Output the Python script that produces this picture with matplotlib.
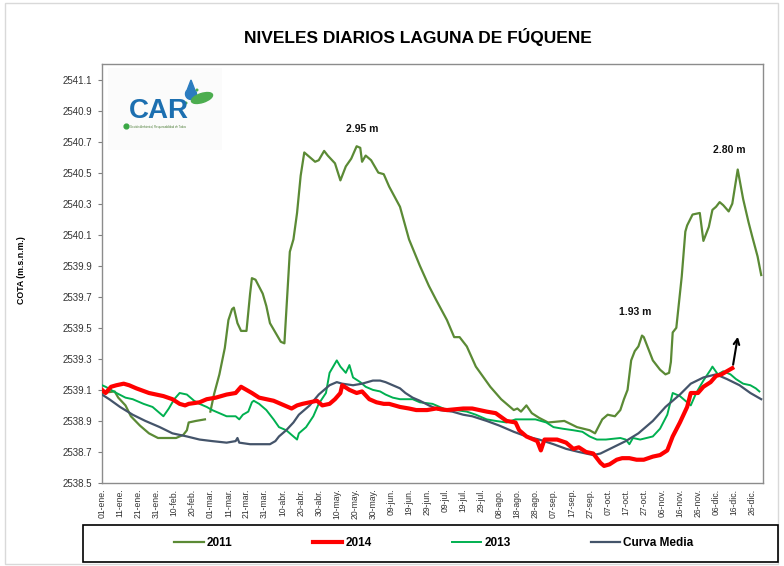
import numpy as np
import matplotlib
matplotlib.use("Agg")
import matplotlib.pyplot as plt
from matplotlib.patches import Rectangle, Ellipse, Polygon, Circle

plt.rcParams['font.family'] = ['Liberation Sans', 'DejaVu Sans']

# ---------------- data (day of year index, level in m.s.n.m.) ----------------
days_2011 = [0, 7, 9, 13, 16, 21, 26, 31, 41, 45, 47, 48, 52, 57, 58,
             60, 62, 65, 68, 70, 72, 73, 75, 77, 80, 82, 83, 85, 89, 91, 93, 95, 99, 101,
             104, 106, 108, 110, 112, 114, 118, 120, 123, 125, 129, 132, 135, 138, 141, 143,
             144, 146, 149, 153, 156, 159, 165, 170, 176, 181, 185, 191, 195, 198, 202, 207,
             215, 221, 228, 230, 232, 235, 238, 242, 247, 256, 263, 270, 273, 277, 280, 284,
             287, 289, 291, 293, 295, 297, 299, 300, 302, 305, 309, 312, 314, 315, 316, 318,
             321, 323, 324, 327, 331, 333, 336, 338, 340, 342, 344, 347, 349, 352, 355, 358,
             360, 363, 365]
lvl_2011 = [2539.08, 2539.09, 2539.05, 2539.00, 2538.93, 2538.87, 2538.82, 2538.79, 2538.79,
            2538.81, 2538.84, 2538.89, 2538.90, 2538.91, np.nan,
            2538.96, 2539.07, 2539.20, 2539.37, 2539.55, 2539.62, 2539.63, 2539.53, 2539.48,
            2539.48, 2539.72, 2539.82, 2539.81, 2539.72, 2539.64, 2539.53, 2539.49, 2539.41,
            2539.40, 2539.99, 2540.07, 2540.24, 2540.48, 2540.63, 2540.61, 2540.57, 2540.58,
            2540.64, 2540.61, 2540.56, 2540.45, 2540.54, 2540.59, 2540.67, 2540.66, 2540.57,
            2540.61, 2540.58, 2540.50, 2540.49, 2540.41, 2540.28, 2540.07, 2539.90, 2539.77,
            2539.68, 2539.55, 2539.44, 2539.44, 2539.38, 2539.25, 2539.12, 2539.04, 2538.97,
            2538.98, 2538.96, 2539.00, 2538.95, 2538.92, 2538.89, 2538.90, 2538.86, 2538.84,
            2538.82, 2538.91, 2538.94, 2538.93, 2538.97, 2539.04, 2539.10, 2539.29, 2539.35,
            2539.38, 2539.45, 2539.44, 2539.38, 2539.29, 2539.23, 2539.20, 2539.21, 2539.28,
            2539.47, 2539.50, 2539.83, 2540.12, 2540.16, 2540.23, 2540.24, 2540.06, 2540.15,
            2540.26, 2540.28, 2540.31, 2540.29, 2540.25, 2540.30, 2540.52, 2540.33, 2540.18,
            2540.09, 2539.96, 2539.84]

days_2014 = [0, 2, 5, 8, 12, 15, 19, 26, 34, 39, 43, 46, 48, 54, 58, 63, 69, 74, 77, 80, 83,
             87, 91, 95, 99, 105, 108, 111, 115, 119, 122, 126, 129, 132, 133, 137, 141, 144,
             148, 152, 156, 159, 165, 170, 174, 180, 185, 191, 200, 205, 209, 213, 218, 224,
             229, 231, 235, 239, 241, 243, 245, 252, 257, 261, 264, 268, 272, 276, 278, 281,
             285, 288, 292, 296, 300, 305, 309, 313, 316, 320, 324, 326, 330, 333, 337, 340,
             343, 346, 349]
lvl_2014 = [2539.10, 2539.08, 2539.12, 2539.13, 2539.14, 2539.13, 2539.11, 2539.08, 2539.06,
            2539.04, 2539.01, 2539.00, 2539.01, 2539.02, 2539.04, 2539.05, 2539.07, 2539.08,
            2539.12, 2539.10, 2539.08, 2539.05, 2539.04, 2539.03, 2539.01, 2538.98, 2539.00,
            2539.01, 2539.02, 2539.03, 2539.00, 2539.01, 2539.04, 2539.08, 2539.13, 2539.10,
            2539.08, 2539.09, 2539.04, 2539.02, 2539.01, 2539.01, 2538.99, 2538.98, 2538.97,
            2538.97, 2538.98, 2538.97, 2538.98, 2538.98, 2538.97, 2538.96, 2538.95, 2538.90,
            2538.89, 2538.84, 2538.80, 2538.78, 2538.77, 2538.71, 2538.78, 2538.78, 2538.76,
            2538.72, 2538.73, 2538.70, 2538.69, 2538.63, 2538.61, 2538.62, 2538.65, 2538.66,
            2538.66, 2538.65, 2538.65, 2538.67, 2538.68, 2538.71, 2538.80, 2538.89, 2538.99,
            2539.08, 2539.08, 2539.12, 2539.15, 2539.19, 2539.20, 2539.22, 2539.24]

days_2013 = [0, 2, 8, 13, 17, 23, 28, 34, 37, 40, 43, 47, 48, 51, 54, 58, 61, 65, 69, 74, 76,
             78, 81, 83, 84, 87, 91, 95, 98, 102, 106, 108, 109, 113, 117, 120, 124, 126, 130,
             132, 135, 137, 139, 143, 146, 150, 154, 157, 161, 165, 172, 176, 183, 191, 196,
             202, 207, 213, 218, 224, 229, 235, 240, 246, 250, 255, 261, 266, 270, 274, 279,
             287, 290, 292, 294, 298, 305, 309, 313, 316, 320, 324, 326, 329, 333, 337, 338,
             341, 344, 348, 351, 355, 359, 362, 364]
lvl_2013 = [2539.13, 2539.12, 2539.08, 2539.05, 2539.04, 2539.01, 2538.99, 2538.93, 2538.98,
            2539.04, 2539.08, 2539.07, 2539.06, 2539.03, 2539.01, 2538.99, 2538.97, 2538.95,
            2538.93, 2538.93, 2538.91, 2538.94, 2538.96, 2539.02, 2539.03, 2539.01, 2538.97,
            2538.91, 2538.86, 2538.84, 2538.80, 2538.78, 2538.82, 2538.86, 2538.93, 2539.01,
            2539.08, 2539.21, 2539.29, 2539.25, 2539.21, 2539.26, 2539.18, 2539.15, 2539.12,
            2539.10, 2539.09, 2539.07, 2539.05, 2539.04, 2539.04, 2539.02, 2539.01, 2538.97,
            2538.97, 2538.96, 2538.94, 2538.91, 2538.90, 2538.89, 2538.91, 2538.91, 2538.91,
            2538.89, 2538.86, 2538.85, 2538.84, 2538.83, 2538.80, 2538.78, 2538.78, 2538.79,
            2538.78, 2538.75, 2538.79, 2538.78, 2538.80, 2538.85, 2538.94, 2539.08, 2539.06,
            2539.02, 2539.00, 2539.08, 2539.16, 2539.23, 2539.25, 2539.20, 2539.22, 2539.20,
            2539.17, 2539.14, 2539.13, 2539.11, 2539.09]

days_media = [0, 4, 10, 17, 24, 32, 39, 47, 54, 61, 69, 74, 75, 76, 82, 87, 93, 96, 98, 102,
              106, 109, 115, 120, 126, 130, 133, 139, 144, 150, 154, 157, 161, 165, 168, 172,
              176, 181, 187, 194, 200, 205, 213, 220, 228, 235, 242, 250, 257, 264, 272, 276,
              283, 290, 297, 305, 312, 320, 326, 333, 340, 346, 353, 359, 365]
lvl_media = [2539.07, 2539.04, 2538.99, 2538.94, 2538.90, 2538.86, 2538.82, 2538.80, 2538.78,
             2538.77, 2538.76, 2538.77, 2538.79, 2538.76, 2538.75, 2538.75, 2538.75, 2538.77,
             2538.80, 2538.84, 2538.89, 2538.94, 2539.00, 2539.07, 2539.13, 2539.15, 2539.14,
             2539.13, 2539.14, 2539.16, 2539.16, 2539.15, 2539.13, 2539.11, 2539.08, 2539.05,
             2539.03, 2539.00, 2538.97, 2538.96, 2538.94, 2538.93, 2538.90, 2538.87, 2538.83,
             2538.80, 2538.78, 2538.75, 2538.72, 2538.70, 2538.68, 2538.69, 2538.73, 2538.77,
             2538.82, 2538.90, 2538.99, 2539.07, 2539.14, 2539.18, 2539.20, 2539.17, 2539.13,
             2539.08, 2539.04]

tick_days = list(range(0, 361, 10))
tick_labels = ["01-ene.", "11-ene.", "21-ene.", "31-ene.", "10-feb.", "20-feb.", "01-mar.",
               "11-mar.", "21-mar.", "31-mar.", "10-abr.", "20-abr.", "30-abr.", "10-may.",
               "20-may.", "30-may.", "09-jun.", "19-jun.", "29-jun.", "09-jul.", "19-jul.",
               "29-jul.", "08-ago.", "18-ago.", "28-ago.", "07-sep.", "17-sep.", "27-sep.",
               "07-oct.", "17-oct.", "27-oct.", "06-nov.", "16-nov.", "26-nov.", "06-dic.",
               "16-dic.", "26-dic."]
y_ticks = [2538.5, 2538.7, 2538.9, 2539.1, 2539.3, 2539.5, 2539.7, 2539.9,
           2540.1, 2540.3, 2540.5, 2540.7, 2540.9, 2541.1]

notes = ["2.95 m", "2.80 m", "1.93 m"]
note_x = [144, 347.5, 295.5]
note_y = [2540.78, 2540.645, 2539.60]

# ---------------- figure ----------------
W, H = 784, 566
fig = plt.figure(figsize=(W / 100, H / 100), dpi=100)

def fx(px):
    return px / W

def fy(py):
    return 1 - py / H

# outer chart border
fig.add_artist(Rectangle((fx(5), fy(564)), fx(778) - fx(5), fy(3) - fy(564),
                         transform=fig.transFigure, fill=False, edgecolor='#d9d9d9', lw=1))

ax = fig.add_axes([fx(102), fy(483), fx(763) - fx(102), fy(64) - fy(483)])

c2011 = '#5b8a35'
c2014 = '#ff0000'
c2013 = '#00b050'
cmed = '#44546a'

l1, = ax.plot(days_2011, lvl_2011, color=c2011, lw=1.6, solid_joinstyle='round', zorder=3)
l3, = ax.plot(days_2013, lvl_2013, color=c2013, lw=1.4, solid_joinstyle='round', zorder=4)
l4, = ax.plot(days_media, lvl_media, color=cmed, lw=1.6, solid_joinstyle='round', zorder=4)
l2, = ax.plot(days_2014, lvl_2014, color=c2014, lw=3.0, solid_joinstyle='round', zorder=5)

ax.set_xlim(0, 366)
ax.set_ylim(2538.5, 2541.2)

ax.set_yticks(y_ticks)
ax.set_yticklabels([f"{v:.1f}" for v in y_ticks])
ax.set_xticks(tick_days)
ax.set_xticklabels(tick_labels, rotation=90)
ax.set_xticks(list(range(0, 361, 40)), minor=True)
ax.tick_params(axis='x', which='major', length=0, pad=4, labelsize=6.2, labelcolor='#333333')
ax.tick_params(axis='x', which='minor', length=4, width=0.9, color='#7f7f7f', direction='out')
ax.tick_params(axis='y', length=3, width=0.8, color='#7f7f7f', labelsize=7, labelcolor='#333333', pad=4)
for s in ax.spines.values():
    s.set_color('#8c8c8c')
    s.set_linewidth(1.0)

for t, xv, yv in zip(notes, note_x, note_y):
    ax.text(xv, yv, t, ha='center', va='center', fontsize=7.5, fontweight='bold', color='#111111')

ax.annotate('', xy=(352.3, 2539.46), xytext=(349.2, 2539.245),
            arrowprops=dict(arrowstyle='->', color='black', lw=1.5, mutation_scale=10), zorder=6)

# titles
fig.text(fx(418), fy(37), "NIVELES DIARIOS LAGUNA DE FÚQUENE", ha='center', va='center',
         fontsize=12.5, fontweight='bold', color='black')
fig.text(fx(22), fy(270), "COTA (m.s.n.m.)", rotation=90, ha='center', va='center',
         fontsize=6.3, fontweight='bold', color='black')

# legend
fig.add_artist(Rectangle((fx(83), fy(562)), fx(778) - fx(83), fy(525) - fy(562),
                         transform=fig.transFigure, fill=False, edgecolor='black', lw=1.2))
leg = fig.legend([l1, l2, l3, l4], ["2011", "2014", "2013", "Curva Media"],
                 loc='center', bbox_to_anchor=(fx(434), fy(543)), ncol=4, frameon=False,
                 prop={'weight': 'bold', 'size': 8.5}, handlelength=2.5, handletextpad=0.25,
                 columnspacing=6.8)

# logo (CAR)
lax = fig.add_axes([fx(108), fy(150), fx(222) - fx(108), fy(68) - fy(150)])
lax.set_xlim(0, 114)
lax.set_ylim(82, 0)
lax.set_facecolor('#fbfbfb')
lax.set_xticks([])
lax.set_yticks([])
for s in lax.spines.values():
    s.set_visible(False)
lax.text(51, 43.5, "CAR", ha='center', va='center', fontsize=20, fontweight='bold', color='#1c6fb0')
lax.add_patch(Circle((18.5, 58.5), 2.4, color='#3aa845'))
lax.text(22, 58.8, "Gestión Ambiental, Responsabilidad de Todos", ha='left', va='center',
         fontsize=2.0, color='#4f7f3a')
theta = np.linspace(-0.25 * np.pi, 1.25 * np.pi, 30)
drop = [(83 + 5.5 * np.cos(t), 26 + 5.5 * np.sin(t)) for t in theta] + [(83, 12)]
lax.add_patch(Polygon(drop, closed=True, color='#2b7cc0'))
lax.add_patch(Ellipse((94, 30), 22, 9, angle=-18, color='#4cad4f'))
lax.add_patch(Circle((89, 22), 0.8, color='#4cad4f'))
lax.add_patch(Circle((78, 35), 0.8, color='#4cad4f'))

fig.savefig("out.png", dpi=100)
